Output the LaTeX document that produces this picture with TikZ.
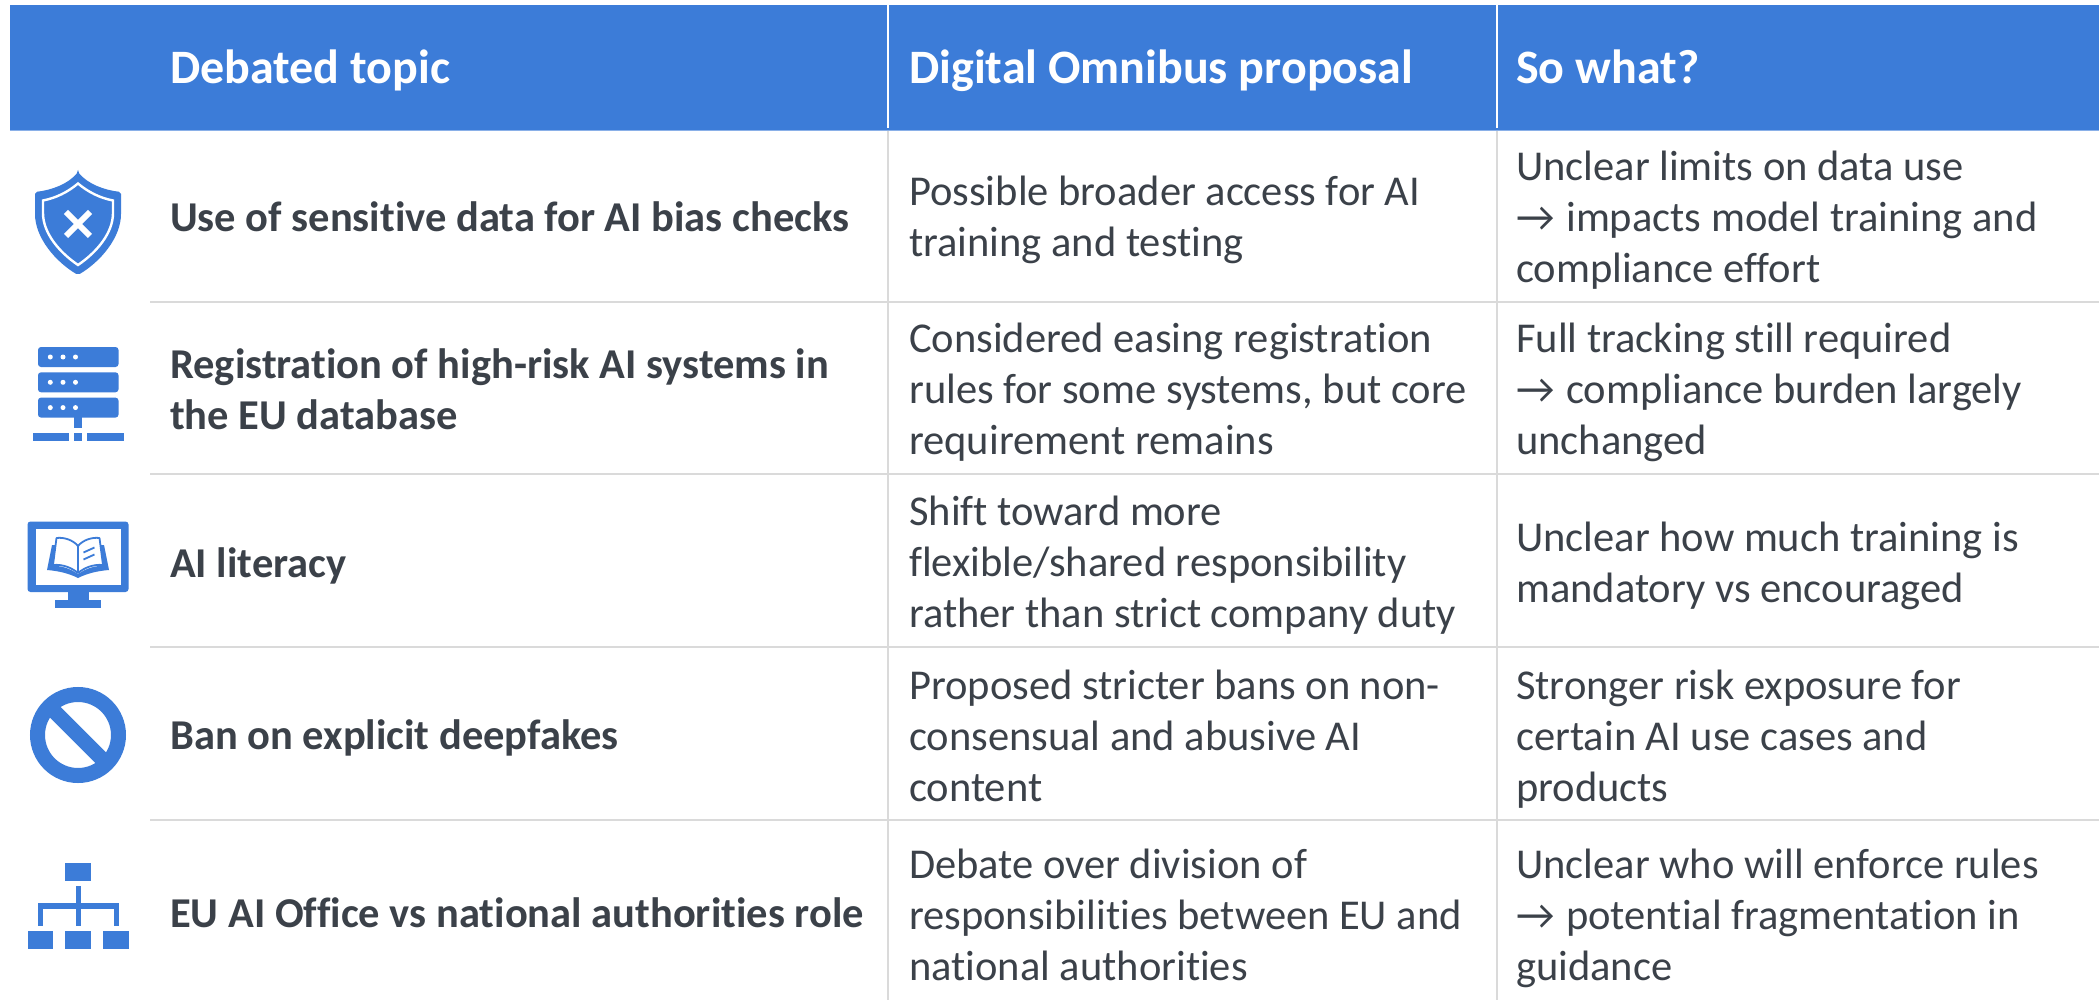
\documentclass[tikz,border=0pt]{standalone}
\usepackage{fontspec}
\setmainfont{Carlito}[Ligatures=NoCommon]
\definecolor{hdr}{HTML}{3C7CD8}
\definecolor{ink}{HTML}{3B4149}
\definecolor{rule}{HTML}{DADADA}
\newcommand\arw{→\kern2pt}
\tikzset{
 headtxt/.style={anchor=base west,inner sep=0pt,text=white,font=\fontsize{48}{56}\selectfont\bfseries},
 bodytxt/.style={anchor=west,inner sep=0pt,align=left,text=ink,font=\fontsize{42.5}{51}\selectfont},
 topictxt/.style={anchor=west,inner sep=0pt,align=left,text=ink,font=\fontsize{42.5}{51}\selectfont\bfseries},
 rowrule/.style={draw=rule,line width=2pt},
 colrule/.style={draw=rule,line width=2pt},
 headrule/.style={draw=white,line width=2pt}
}
\begin{document}
\begin{tikzpicture}[x=1pt,y=-1pt]
\useasboundingbox (0,0) rectangle (2099,1000);
\fill[white] (0,0) rectangle (2099,1000);
% header
\fill[hdr] (10,5) rectangle (2099,130);
\draw[draw=hdr!60!white,line width=1pt] (10,130.5) -- (2099,130.5);
\draw[headrule] (888,5) -- (888,128);
\draw[headrule] (1497,5) -- (1497,128);
% rules
\draw[colrule] (888,131) -- (888,1000);
\draw[colrule] (1497,131) -- (1497,1000);
\foreach \yy in {302,474,647,820} \draw[rowrule] (150,\yy) -- (2099,\yy);
% header text
\node[headtxt] (h1) at (170,84) {Debated topic};
\node[headtxt] (h2) at (909,84) {Digital Omnibus proposal};
\node[headtxt] (h3) at (1516,84) {So what?};
% column 1
\node[topictxt] (t1) at (170,217) {Use of sensitive data for AI bias checks};
\node[topictxt] (t2) at (170,389) {Registration of high-risk AI systems in\\the EU database};
\node[topictxt] (t3) at (170,566) {AI literacy};
\node[topictxt] (t4) at (170,737.5) {Ban on explicit deepfakes};
\node[topictxt] (t5) at (170,913) {EU AI Office vs national authorities role};
% column 2
\node[bodytxt] (p1) at (909,220) {Possible broader access for AI\\training and testing};
\node[bodytxt] (p2) at (909,392.5) {Considered easing registration\\rules for some systems, but core\\requirement remains};
\node[bodytxt] (p3) at (909,565.5) {Shift toward more\\flexible/shared responsibility\\rather than strict company duty};
\node[bodytxt] (p4) at (909,735.5) {Proposed stricter bans on non-\\consensual and abusive AI\\content};
\node[bodytxt] (p5) at (909,914.5) {Debate over division of\\responsibilities between EU and\\national authorities};
% column 3
\node[bodytxt] (s1) at (1516,220) {Unclear limits on data use\\\arw{} impacts model training and\\compliance effort};
\node[bodytxt] (s2) at (1516,392.5) {Full tracking still required\\\arw{} compliance burden largely\\unchanged};
\node[bodytxt] (s3) at (1516,566) {Unclear how much training is\\mandatory vs encouraged};
\node[bodytxt] (s4) at (1516,739) {Stronger risk exposure for\\certain AI use cases and\\products};
\node[bodytxt] (s5) at (1516,918) {Unclear who will enforce rules\\\arw{} potential fragmentation in\\guidance};
% shield
\fill[hdr,rounded corners=2pt] (78,172) .. controls (88,184) and (104,190) .. (121,192) -- (121,212) .. controls (121,238) and (100,262) .. (78,275) .. controls (56,262) and (35,238) .. (35,212) -- (35,192) .. controls (52,190) and (68,184) .. (78,172) -- cycle;
\draw[white,line width=2.4pt] (78,183.5) .. controls (88,192) and (100,198) .. (113,200.5) -- (113,213) .. controls (113,233) and (97,252) .. (78,265) .. controls (59,252) and (43,233) .. (43,213) -- (43,200.5) .. controls (56,198) and (68,192) .. (78,183.5) -- cycle;
\draw[white,line width=6pt] (66,212) -- (90,236) (90,212) -- (66,236);
% server
\foreach \yy in {347,372.3,397.6}{
 \fill[hdr,rounded corners=3pt] (38,\yy) rectangle (118.5,\yy+20);
 \foreach \xx in {50.3,63,75.5} \fill[white] (\xx,\yy+10) circle (2.5pt);
}
\fill[hdr] (74,417) rectangle (82,428);
\fill[hdr] (32.5,433) rectangle (69,441);
\fill[hdr] (74,433) rectangle (82,441);
\fill[hdr] (87,433) rectangle (124,441);
% monitor
\fill[hdr,rounded corners=3pt] (27.5,521.5) rectangle (128.5,592);
\fill[white] (35.5,529) rectangle (121,584.5);
\fill[hdr] (68,592) rectangle (88.5,600);
\fill[hdr] (55,600) rectangle (101,607.5);
% book
\begin{scope}[line join=round]
\fill[hdr] (52,545) -- (55,545) -- (55,566) .. controls (64,566) and (72,570) .. (78,574) .. controls (84,570) and (92,566) .. (101,566) -- (101,545) -- (104,545) -- (109,570) .. controls (96,571) and (86,574) .. (78,578) .. controls (70,574) and (60,571) .. (47,570) -- cycle;
\draw[hdr,line width=1.8pt,fill=white] (56.5,538) .. controls (64,537) and (73,540) .. (78,546) .. controls (83,540) and (92,537) .. (99.5,538) -- (103,565) .. controls (93,564) and (84,568) .. (78,573) .. controls (72,568) and (63,564) .. (53,565) -- cycle;
\draw[hdr,line width=1.8pt] (78,546) -- (78,573);
\draw[hdr,line width=1.8pt] (83.5,552.5) -- (94.5,547.5) (83.5,559.5) -- (94.5,554.5);
\end{scope}
% prohibit
\draw[hdr,line width=15pt] (78,735) circle (40.5pt);
\begin{scope}
\clip (78,735) circle (41pt);
\draw[hdr,line width=15pt] (48,705) -- (108,765);
\end{scope}
% hierarchy
\fill[hdr] (65,863) rectangle (91,881);
\fill[hdr] (75.5,886) rectangle (80.5,926);
\fill[hdr] (37.5,903) rectangle (118.5,908.5);
\fill[hdr] (37.5,903) rectangle (42.5,926);
\fill[hdr] (113.5,903) rectangle (118.5,926);
\fill[hdr] (27.5,931) rectangle (53,949);
\fill[hdr] (65,931) rectangle (91,949);
\fill[hdr] (103,931) rectangle (129,949);
\end{tikzpicture}
\end{document}
